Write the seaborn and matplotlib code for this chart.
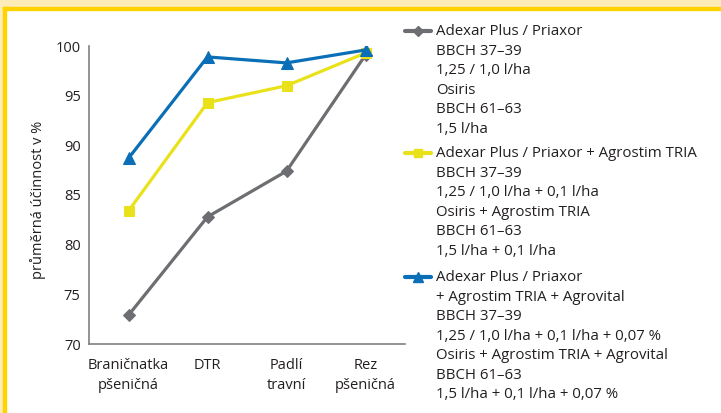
import matplotlib
matplotlib.use("Agg")
import matplotlib.pyplot as plt
import seaborn as sns
from matplotlib.patches import Rectangle
from matplotlib.lines import Line2D

# data
categories = ["Braničnatka\npšeničná", "DTR", "Padlí\ntravní", "Rez\npšeničná"]
adexar = [72.9, 82.8, 87.4, 99.1]
adexar_tria = [83.4, 94.3, 96.0, 99.3]
adexar_tria_vital = [88.7, 98.9, 98.3, 99.6]

labels = [
    "Adexar Plus / Priaxor\nBBCH 37–39\n1,25 / 1,0 l/ha\nOsiris\nBBCH 61–63\n1,5 l/ha",
    "Adexar Plus / Priaxor + Agrostim TRIA\nBBCH 37–39\n1,25 / 1,0 l/ha + 0,1 l/ha\n"
    "Osiris + Agrostim TRIA\nBBCH 61–63\n1,5 l/ha + 0,1 l/ha",
    "Adexar Plus / Priaxor\n+ Agrostim TRIA + Agrovital\nBBCH 37–39\n"
    "1,25 / 1,0 l/ha + 0,1 l/ha + 0,07 %\nOsiris + Agrostim TRIA + Agrovital\n"
    "BBCH 61–63\n1,5 l/ha + 0,1 l/ha + 0,07 %",
]

sns.set_style("white")
plt.rcParams["font.family"] = ["Open Sans", "DejaVu Sans"]
txt = "#231f20"

fig = plt.figure(figsize=(7.21, 4.13), dpi=100)
ax = fig.add_axes([89 / 721, 1 - 344 / 413, (405 - 89) / 721, (344 - 46) / 413])

# yellow frame
fig.patches.append(Rectangle((0, 1 - 7 / 413), 1, 7 / 413, transform=fig.transFigure,
                             color="#feecb8", zorder=0))
fig.patches.append(Rectangle((0, 0), 3 / 721, 1, transform=fig.transFigure,
                             color="#feecb8", zorder=0))
fig.patches.append(Rectangle((3 / 721, 1 - 9.5 / 413), 1, 2.5 / 413, transform=fig.transFigure,
                             color="#ffd200", zorder=0))
fig.patches.append(Rectangle((3 / 721, 0), 3 / 721, 1 - 7 / 413, transform=fig.transFigure,
                             color="#ffd200", zorder=0))

series = [
    (adexar, "#6d6e71", "D", 6),
    (adexar_tria, "#e9e21b", "s", 7.5),
    (adexar_tria_vital, "#0a6fb7", "^", 8.5),
]
for vals, col, mk, ms in series:
    sns.lineplot(x=categories, y=vals, color=col, marker=mk, markersize=ms,
                 markeredgecolor=col, linewidth=2.3, sort=False, ax=ax)

ax.set_xlim(-0.5, 3.5)
ax.set_ylim(70, 100)
ax.set_yticks([70, 75, 80, 85, 90, 95, 100])
ax.set_xticks([0.5, 1.5, 2.5, 3.5], minor=True)
ax.tick_params(axis="x", which="major", length=0, pad=10, labelsize=10.5, labelcolor=txt)
ax.tick_params(axis="x", which="minor", length=4, width=1, color="#808080", direction="out")
ax.tick_params(axis="y", length=4, width=1, color="#808080", direction="out",
               labelsize=10.5, labelcolor=txt, pad=2)
for lbl in ax.get_xticklabels():
    lbl.set_linespacing(1.45)
ax.set_ylabel("průměrná účinnost v %", fontsize=10.5, color=txt, labelpad=4)
ax.yaxis.set_label_coords(-0.135, 0.485)
sns.despine(ax=ax)
for s in ["left", "bottom"]:
    ax.spines[s].set_color("#808080")
    ax.spines[s].set_linewidth(1.2)

# legend, handle aligned with the first line of each label
tops = [30.5, 152.5, 276.5]
for (vals, col, mk, ms), lab, y in zip(series, labels, tops):
    yf = 1 - y / 413
    fig.add_artist(Line2D([405 / 721, 418 / 721, 431 / 721], [yf, yf, yf], color=col,
                          linewidth=3, marker=mk, markersize=ms * 0.85, markevery=[1],
                          transform=fig.transFigure))
    fig.text(436 / 721, 1 - (y - 6.5) / 413, lab, fontsize=10.8, color=txt, va="top",
             ha="left", linespacing=1.41, transform=fig.transFigure)

fig.savefig("out.png", dpi=100)
